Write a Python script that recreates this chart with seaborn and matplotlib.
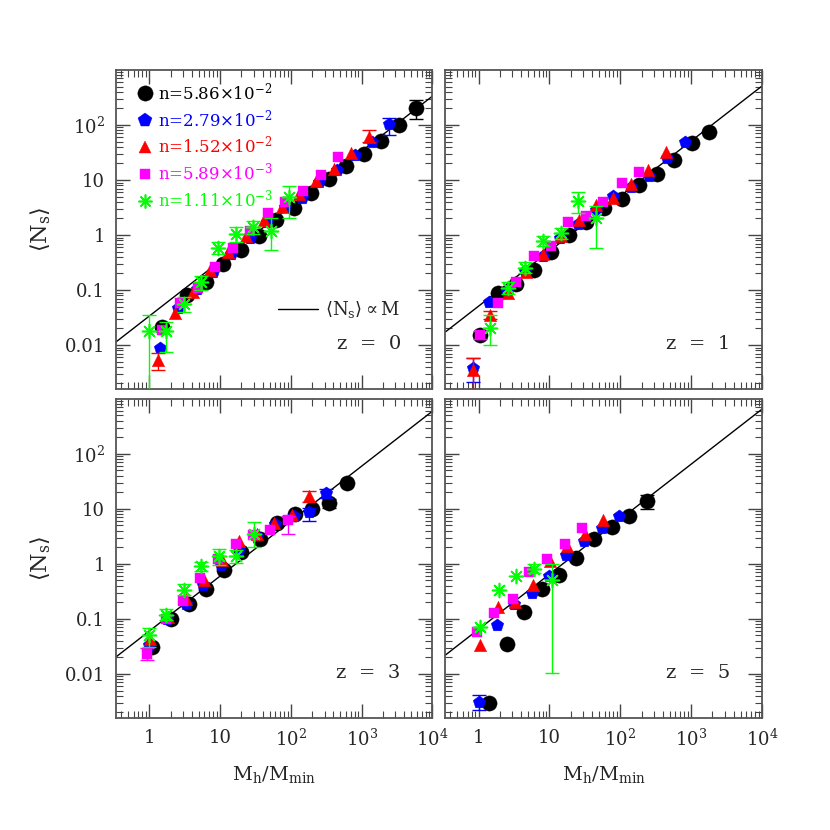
import matplotlib
matplotlib.use("Agg")
import matplotlib.pyplot as plt
from matplotlib.lines import Line2D
from matplotlib.ticker import LogLocator, NullFormatter, FixedLocator, FixedFormatter
import pandas as pd
import seaborn as sns

sns.set_style("ticks")
plt.rcParams['font.family'] = ['DejaVu Serif']
plt.rcParams['mathtext.fontset'] = 'dejavuserif'

# ---- samples (number densities) ----
SAMPLES = ['n1', 'n2', 'n3', 'n4', 'n5']
LABELS = [r'n=5.86$\times$10$^{-2}$', r'n=2.79$\times$10$^{-2}$', r'n=1.52$\times$10$^{-2}$',
          r'n=5.89$\times$10$^{-3}$', r'n=1.11$\times$10$^{-3}$']
COLORS = ['#000000', '#0000ff', '#ff0000', '#ff00ff', '#00ff00']
MARKERS = ['o', 'p', '^', 's', (8, 2, 0)]
SIZES = [120, 90, 80, 55, 100]

REDSHIFTS = [0, 1, 3, 5]
# amplitude of the <Ns> ∝ M reference line in each panel
LINE_AMP = [0.0335, 0.051, 0.06, 0.065]
LINE_X = [0.34, 1.0e4]

# ---- z = 0 ----
z0_x_n1 = [1.52, 3.43, 6.28, 11.0, 20.0, 35.1, 62, 110, 193, 343, 601, 1067, 1892, 3390, 5820]
z0_y_n1 = [0.021, 0.081, 0.138, 0.297, 0.536, 0.96, 1.87, 3.14, 5.73, 10.4, 18.2, 29.3, 51.9, 100, 201]
z0_x_n2 = [1.44, 2.56, 4.74, 7.95, 14.4, 26.2, 46.4, 82, 144, 253, 448, 800, 1400, 2400]
z0_y_n2 = [0.0089, 0.048, 0.105, 0.215, 0.46, 0.87, 1.75, 3.2, 4.8, 9.3, 15.2, 28.5, 48.4, 103]
z0_x_n3 = [1.34, 2.35, 4.17, 7.15, 13.0, 23.5, 41.7, 75.5, 132, 227, 403, 708, 1260]
z0_y_n3 = [0.0054, 0.038, 0.093, 0.23, 0.50, 0.95, 1.86, 3.27, 5.6, 9.5, 15.8, 30.5, 61.5]
z0_x_n4 = [1.52, 2.75, 4.9, 8.4, 15.0, 26.5, 47.4, 84, 150, 267, 469]
z0_y_n4 = [0.019, 0.058, 0.11, 0.265, 0.57, 1.2, 2.48, 3.9, 6.2, 12.3, 26.2]
z0_x_n5 = [1.0, 1.75, 3.08, 5.46, 9.4, 16.6, 29.2, 52.8, 93.6]
z0_y_n5 = [0.018, 0.018, 0.055, 0.138, 0.59, 1.03, 1.38, 1.2, 4.98]
# error bars: (sample, x, low, high)
z0_err = [('n1', 5820, 128, 285), ('n2', 2400, 66, 132), ('n3', 1.34, 0.0035, 0.0071),
          ('n3', 1260, 50, 81), ('n5', 1.0, 0.0001, 0.035), ('n5', 1.75, 0.0076, 0.026),
          ('n5', 3.08, 0.04, 0.075), ('n5', 5.46, 0.10, 0.18), ('n5', 9.4, 0.45, 0.75),
          ('n5', 16.6, 0.75, 1.4), ('n5', 29.2, 1.05, 1.8), ('n5', 52.8, 0.53, 2.0),
          ('n5', 93.6, 2.06, 7.9)]

# ---- z = 1 ----
z1_x_n1 = [1.04, 1.85, 3.36, 5.95, 10.4, 18.9, 32.6, 59, 104, 183, 325, 575, 1030, 1780]
z1_y_n1 = [0.015, 0.087, 0.13, 0.23, 0.5, 1.0, 1.75, 3.05, 4.6, 8.1, 12.6, 23, 46.4, 75.7]
z1_x_n2 = [0.82, 1.41, 2.5, 4.54, 8.0, 14.2, 25.5, 45, 79.6, 142, 252, 458, 813]
z1_y_n2 = [0.0038, 0.06, 0.095, 0.22, 0.42, 0.9, 1.6, 2.8, 5.2, 7.5, 12, 24.8, 48.4]
z1_x_n3 = [0.82, 1.44, 2.56, 4.6, 8.1, 14.5, 25.8, 45, 80, 142, 248, 435]
z1_y_n3 = [0.0035, 0.035, 0.09, 0.21, 0.45, 0.95, 1.85, 3.5, 4.8, 8.5, 15.1, 31.9]
z1_x_n4 = [1.04, 1.85, 3.36, 5.96, 10.4, 18.5, 32.6, 57.6, 104, 183]
z1_y_n4 = [0.0155, 0.057, 0.14, 0.41, 0.62, 1.75, 2.24, 3.9, 8.7, 14.2]
z1_x_n5 = [1.46, 2.56, 4.54, 8.13, 14.4, 25.6, 45]
z1_y_n5 = [0.02, 0.11, 0.25, 0.78, 1.07, 4.15, 2.0]
z1_err = [('n2', 0.82, 0.0021, 0.0057), ('n3', 0.82, 0.0001, 0.0057), ('n3', 1.44, 0.03, 0.042),
          ('n4', 1.04, 0.013, 0.018), ('n5', 1.46, 0.01, 0.035), ('n5', 2.56, 0.085, 0.14),
          ('n5', 4.54, 0.2, 0.32), ('n5', 8.13, 0.62, 0.95), ('n5', 14.4, 0.85, 1.35),
          ('n5', 25.6, 2.5, 6.1), ('n5', 45, 0.59, 3.3)]

# ---- z = 3 ----
z3_x_n1 = [1.11, 2.0, 3.62, 6.42, 11.4, 20, 36.1, 63.5, 113, 200, 351, 620]
z3_y_n1 = [0.031, 0.098, 0.185, 0.356, 0.79, 1.65, 2.88, 5.56, 8.0, 10.1, 12.9, 30.2]
z3_x_n2 = [1.0, 1.8, 3.28, 5.76, 10.4, 18.5, 33, 60.6, 110, 183, 315]
z3_y_n2 = [0.033, 0.1, 0.19, 0.41, 0.95, 1.9, 3.2, 5.4, 7.5, 8.8, 19.5]
z3_x_n3 = [1.04, 1.85, 3.28, 5.9, 10.6, 18.5, 33, 58, 104, 183]
z3_y_n3 = [0.044, 0.11, 0.23, 0.5, 1.2, 2.62, 3.5, 5.5, 7.8, 17]
z3_x_n4 = [0.94, 1.72, 3.01, 5.28, 9.35, 16.6, 29.5, 51, 90.6]
z3_y_n4 = [0.023, 0.10, 0.21, 0.565, 1.25, 2.28, 3.3, 4.1, 6.2]
z3_x_n5 = [1.0, 1.75, 3.08, 5.46, 9.7, 17, 29.8]
z3_y_n5 = [0.05, 0.12, 0.34, 0.91, 1.38, 1.38, 3.55]
z3_err = [('n1', 351, 10.5, 15), ('n2', 183, 6.0, 10.5), ('n2', 315, 16, 23), ('n3', 183, 13.5, 21),
          ('n4', 0.94, 0.018, 0.03), ('n4', 90.6, 3.55, 7.5), ('n5', 1.0, 0.031, 0.069),
          ('n5', 1.75, 0.095, 0.15), ('n5', 3.08, 0.27, 0.43), ('n5', 5.46, 0.75, 1.1),
          ('n5', 9.7, 0.95, 1.9), ('n5', 17, 1.05, 1.8), ('n5', 29.8, 2.05, 5.8)]

# ---- z = 5 ----
z5_x_n1 = [1.38, 2.48, 4.4, 7.8, 13.7, 24, 42.6, 75.5, 132, 235]
z5_y_n1 = [0.003, 0.035, 0.134, 0.35, 0.62, 1.3, 2.88, 4.7, 7.4, 14]
z5_x_n2 = [1.0, 1.79, 3.18, 5.64, 9.9, 17.3, 30.8, 54.6, 96]
z5_y_n2 = [0.0031, 0.076, 0.19, 0.3, 0.6, 1.44, 2.62, 4.57, 7.4]
z5_x_n3 = [1.04, 1.85, 3.3, 5.76, 10.2, 17.9, 31.8, 57]
z5_y_n3 = [0.033, 0.166, 0.2, 0.41, 1.15, 2.12, 3.55, 6.2]
z5_x_n4 = [0.94, 1.66, 3.01, 5.17, 9.35, 16.6, 29.2]
z5_y_n4 = [0.058, 0.126, 0.235, 0.72, 1.25, 2.34, 4.5]
z5_x_n5 = [1.04, 1.91, 3.36, 5.96, 10.8]
z5_y_n5 = [0.072, 0.34, 0.6, 0.82, 0.52]
z5_err = [('n1', 235, 10.1, 17.7), ('n2', 1.0, 0.0022, 0.0041), ('n5', 5.96, 0.68, 1.0),
          ('n5', 10.8, 0.0102, 1.0)]

PANELS = {
    0: ([z0_x_n1, z0_x_n2, z0_x_n3, z0_x_n4, z0_x_n5], [z0_y_n1, z0_y_n2, z0_y_n3, z0_y_n4, z0_y_n5], z0_err),
    1: ([z1_x_n1, z1_x_n2, z1_x_n3, z1_x_n4, z1_x_n5], [z1_y_n1, z1_y_n2, z1_y_n3, z1_y_n4, z1_y_n5], z1_err),
    3: ([z3_x_n1, z3_x_n2, z3_x_n3, z3_x_n4, z3_x_n5], [z3_y_n1, z3_y_n2, z3_y_n3, z3_y_n4, z3_y_n5], z3_err),
    5: ([z5_x_n1, z5_x_n2, z5_x_n3, z5_x_n4, z5_x_n5], [z5_y_n1, z5_y_n2, z5_y_n3, z5_y_n4, z5_y_n5], z5_err),
}

XTICKS = [1, 10, 100, 1000, 10000]
XTICKLABELS = ['1', '10', r'10$^{2}$', r'10$^{3}$', r'10$^{4}$']
YTICKS = [0.01, 0.1, 1, 10, 100]
YTICKLABELS = ['0.01', '0.1', '1', '10', r'10$^{2}$']

fig = plt.figure(figsize=(8.3, 8.3), dpi=100)
axes = fig.subplots(2, 2)
fig.subplots_adjust(left=0.1398, right=0.918, top=0.9157, bottom=0.135, wspace=0.041, hspace=0.031)

for k, (ax, z) in enumerate(zip(axes.flat, REDSHIFTS)):
    xs, ys, errs = PANELS[z]

    # model line <Ns> ∝ M
    line_df = pd.DataFrame({'M': LINE_X, 'Ns': [LINE_AMP[k] * v for v in LINE_X]})
    sns.lineplot(data=line_df, x='M', y='Ns', color='black', lw=1.0, ax=ax, zorder=1)

    for i, s in enumerate(SAMPLES):
        # error bars drawn under the markers
        e_x = [e[1] for e in errs if e[0] == s]
        e_lo = [e[2] for e in errs if e[0] == s]
        e_hi = [e[3] for e in errs if e[0] == s]
        e_y = [ys[i][xs[i].index(x)] for x in e_x]
        if e_x:
            ax.errorbar(e_x, e_y, yerr=[[yy - lo for yy, lo in zip(e_y, e_lo)],
                                        [hi - yy for yy, hi in zip(e_y, e_hi)]],
                        fmt='none', ecolor=COLORS[i], elinewidth=1.0, capsize=5, capthick=1.0,
                        zorder=2 + i)
        df = pd.DataFrame({'M': xs[i], 'Ns': ys[i]})
        sns.scatterplot(data=df, x='M', y='Ns', marker=MARKERS[i], s=SIZES[i],
                        color=COLORS[i], edgecolor=COLORS[i],
                        linewidth=1.2 if i == 4 else 0.3, ax=ax, zorder=3 + i, legend=False)

    ax.set_xscale('log')
    ax.set_yscale('log')
    ax.set_xlim(0.34, 1.0e4)
    ax.set_ylim(10 ** -2.8, 1000)

    ax.xaxis.set_major_locator(FixedLocator(XTICKS))
    ax.yaxis.set_major_locator(FixedLocator(YTICKS))
    ax.xaxis.set_minor_locator(LogLocator(base=10, subs=range(2, 10), numticks=20))
    ax.yaxis.set_minor_locator(LogLocator(base=10, subs=range(2, 10), numticks=20))
    ax.xaxis.set_minor_formatter(NullFormatter())
    ax.yaxis.set_minor_formatter(NullFormatter())
    if k >= 2:
        ax.xaxis.set_major_formatter(FixedFormatter(XTICKLABELS))
        ax.set_xlabel(r'M$_{\rm h}$/M$_{\rm min}$', fontsize=14, labelpad=10)
    else:
        ax.xaxis.set_major_formatter(NullFormatter())
        ax.set_xlabel('')
    if k % 2 == 0:
        ax.yaxis.set_major_formatter(FixedFormatter(YTICKLABELS))
        ax.set_ylabel(r'$\langle$N$_{\rm s}\rangle$', fontsize=16, labelpad=8)
    else:
        ax.yaxis.set_major_formatter(NullFormatter())
        ax.set_ylabel('')

    ax.tick_params(which='both', direction='in', top=True, right=True, color='#444444',
                   labelsize=13, pad=8)
    ax.tick_params(which='major', length=10, width=1.0)
    ax.tick_params(which='minor', length=5, width=0.8)
    for sp in ax.spines.values():
        sp.set_color('#555555')
        sp.set_linewidth(1.3)

    ax.text(0.90, 0.14, f'z  =  {z}', transform=ax.transAxes, ha='right', va='center', fontsize=14)

    if k == 0:
        handles = [Line2D([], [], ls='none', marker=MARKERS[i], color=COLORS[i], mec=COLORS[i],
                          ms=[11, 10, 9, 7, 10][i], mew=1.2 if i == 4 else 0.3)
                   for i in range(len(SAMPLES))]
        leg = ax.legend(handles, LABELS, labelcolor=COLORS, loc='upper left',
                        bbox_to_anchor=(0.065, 0.965), frameon=False, fontsize=12,
                        handlelength=1.0, handletextpad=0.3, labelspacing=0.3,
                        borderpad=0, borderaxespad=0)
        ax.add_artist(leg)
        ax.legend([Line2D([], [], color='black', lw=1.0)], [r'$\langle$N$_{\rm s}\rangle\propto$M'],
                  loc='center right', bbox_to_anchor=(0.9, 0.248), frameon=False, fontsize=13,
                  handlelength=2.2, handletextpad=0.4, borderpad=0, borderaxespad=0)

fig.savefig('out.png', dpi=100)
